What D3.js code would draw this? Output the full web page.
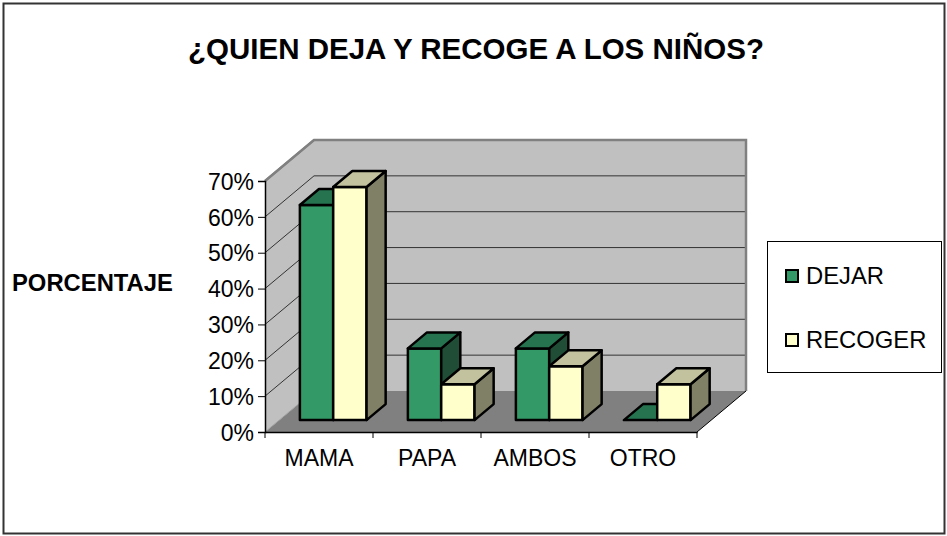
<!DOCTYPE html>
<html>
<head>
<meta charset="utf-8">
<script src="https://cdn.jsdelivr.net/npm/d3@7"></script>
<style>
  body { margin: 0; background: #fff; }
  svg text { font-family: Arial, "Liberation Sans", sans-serif; }
</style>
</head>
<body>
<div id="chart"></div>
<script>
// Data
const categories = ['MAMA', 'PAPA', 'AMBOS', 'OTRO'];
const seriesNames = ['DEJAR', 'RECOGER'];
const dejar = [0.60, 0.20, 0.20, 0.00];
const recoger = [0.65, 0.10, 0.15, 0.10];
const yTicks = [0, 0.1, 0.2, 0.3, 0.4, 0.5, 0.6, 0.7];

const W = 947, H = 536;

// colours per series: front, top, side
const colors = [
  { front: '#339966', top: '#267350', side: '#1f4d35' },
  { front: '#ffffcc', top: '#c2c29e', side: '#808066' },
];

const svg = d3.select('#chart')
  .append('svg')
    .attr('width', W)
    .attr('height', H);

// Outer border
svg.append('rect')
  .attr('x', 3.5).attr('y', 3.5)
  .attr('width', W - 6).attr('height', H - 6)
  .attr('fill', '#fff')
  .attr('stroke', '#333')
  .attr('stroke-width', 2);

// Title
svg.append('text')
  .attr('x', 476).attr('y', 59)
  .attr('text-anchor', 'middle')
  .attr('font-size', 29.5)
  .attr('font-weight', 'bold')
  .text('¿QUIEN DEJA Y RECOGE A LOS NIÑOS?');

// Plot geometry
const left = 265, right = 697, bottom = 432;
const depthX = 49, depthY = -41;

const y = d3.scaleLinear()
  .domain([0, 0.7])
  .range([bottom, 181]);

const x = d3.scaleBand()
  .domain(categories)
  .range([left, right]);

const xs = d3.scaleBand()
  .domain(seriesNames)
  .range([0, x.bandwidth()])
  .paddingOuter(0.62)
  .paddingInner(0);

// point in 3D: px, value, depth fraction
const P = (px, v, d) => [px + d * depthX, y(v) + d * depthY];
const poly = pts => 'M' + pts.map(p => p.join(',')).join('L') + 'Z';
const line = pts => 'M' + pts.map(p => p.join(',')).join('L');

const yMax = 0.7;

// Floor
svg.append('path')
  .attr('d', poly([P(left, 0, 0), P(right, 0, 0), P(right, 0, 1), P(left, 0, 1)]))
  .attr('fill', '#808080');

// Left wall
svg.append('path')
  .attr('d', poly([P(left, 0, 0), P(left, 0, 1), P(left, yMax, 1), P(left, yMax, 0)]))
  .attr('fill', '#c0c0c0');

// Back wall
svg.append('path')
  .attr('d', poly([P(left, 0, 1), P(right, 0, 1), P(right, yMax, 1), P(left, yMax, 1)]))
  .attr('fill', '#c0c0c0');

// Gridlines on walls
yTicks.slice(1).forEach(t => {
  svg.append('path')
    .attr('d', line([P(left, t, 0), P(left, t, 1), P(right, t, 1)]))
    .attr('fill', 'none')
    .attr('stroke', t === yMax ? '#808080' : '#333')
    .attr('stroke-width', t === yMax ? 2 : 1);
});

// Wall edges
svg.append('path')
  .attr('d', line([P(left, yMax, 0), P(left, yMax, 1), P(right, yMax, 1), P(right, 0, 1)]))
  .attr('fill', 'none')
  .attr('stroke', '#808080')
  .attr('stroke-width', 2.5);

svg.append('path')
  .attr('d', line([P(left, 0, 0), P(left, 0, 1)]))
  .attr('fill', 'none')
  .attr('stroke', '#a0a0a0')
  .attr('stroke-width', 1);

// Floor right edge
svg.append('path')
  .attr('d', line([P(right, 0, 0), P(right, 0, 1)]))
  .attr('fill', 'none')
  .attr('stroke', '#000')
  .attr('stroke-width', 1);

// Bars
const d0 = 0.29, d1 = 0.68;
const seriesData = [dejar, recoger];
categories.forEach((cat, i) => {
  seriesNames.forEach((s, j) => {
    const v = seriesData[j][i];
    const x0 = x(cat) + xs(s);
    const x1 = x0 + xs.bandwidth();
    const c = colors[j];
    const g = svg.append('g')
      .attr('stroke', '#000')
      .attr('stroke-width', 2.5)
      .attr('stroke-linejoin', 'round');
    if (v > 0) {
      g.append('path')
        .attr('d', poly([P(x0, 0, d0), P(x1, 0, d0), P(x1, v, d0), P(x0, v, d0)]))
        .attr('fill', c.front);
      g.append('path')
        .attr('d', poly([P(x1, 0, d0), P(x1, 0, d1), P(x1, v, d1), P(x1, v, d0)]))
        .attr('fill', c.side);
    }
    g.append('path')
      .attr('d', poly([P(x0, v, d0), P(x1, v, d0), P(x1, v, d1), P(x0, v, d1)]))
      .attr('fill', c.top);
  });
});

// Y axis
const yAxis = svg.append('g')
  .attr('transform', `translate(${left},0)`)
  .call(d3.axisLeft(y).tickValues(yTicks).tickFormat(d3.format('.0%')).tickSize(7).tickPadding(4));
yAxis.select('.domain').attr('stroke', '#000').attr('stroke-width', 1.5);
yAxis.selectAll('.tick line').attr('stroke', '#000');
yAxis.selectAll('.tick text')
  .attr('font-size', 23)
  .attr('fill', '#000')
  .attr('dy', '0.36em')
  .attr('font-family', 'Arial, "Liberation Sans", sans-serif');

// X axis
const xAxis = svg.append('g')
  .attr('transform', `translate(0,${bottom})`)
  .call(d3.axisBottom(x).tickSize(0).tickPadding(17));
xAxis.select('.domain').attr('stroke', '#000').attr('stroke-width', 1.5);
xAxis.selectAll('.tick text')
  .attr('font-size', 23)
  .attr('fill', '#000')
  .attr('y', 34)
  .attr('dy', 0)
  .attr('font-family', 'Arial, "Liberation Sans", sans-serif');
// tick marks at category boundaries
xAxis.selectAll('.bound')
  .data(categories.concat(['end']))
  .enter().append('line')
    .attr('x1', (d, i) => i < categories.length ? x(d) : right)
    .attr('x2', (d, i) => i < categories.length ? x(d) : right)
    .attr('y1', 0).attr('y2', 6)
    .attr('stroke', '#000');

// Y title
svg.append('text')
  .attr('x', 12).attr('y', 291)
  .attr('font-size', 23.8)
  .attr('font-weight', 'bold')
  .text('PORCENTAJE');

// Legend
const legend = svg.append('g');
legend.append('rect')
  .attr('x', 767.5).attr('y', 241.5)
  .attr('width', 174).attr('height', 131)
  .attr('fill', '#fff')
  .attr('stroke', '#000')
  .attr('stroke-width', 1);
seriesNames.forEach((s, j) => {
  const cy = 276 + j * 64;
  legend.append('rect')
    .attr('x', 786).attr('y', cy - 6)
    .attr('width', 12).attr('height', 12)
    .attr('fill', colors[j].front)
    .attr('stroke', '#000')
    .attr('stroke-width', 2);
  legend.append('text')
    .attr('x', 806).attr('y', cy + 8)
    .attr('font-size', 23.8)
    .text(s);
});
</script>
</body>
</html>
